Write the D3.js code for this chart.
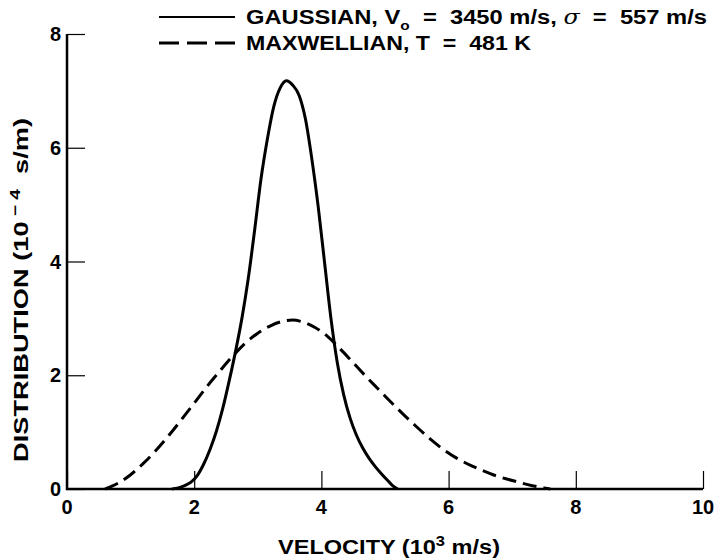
<!DOCTYPE html>
<html>
<head>
<meta charset="utf-8">
<script src="https://cdn.jsdelivr.net/npm/d3@7"></script>
<style>
  body { margin: 0; background: #fff; }
  svg { display: block; }
  text { font-family: 'Liberation Sans', Arial, sans-serif; font-weight: bold; fill: #000; white-space: pre; }
</style>
</head>
<body>
<div id="chart"></div>
<script>
let width = 714
let height = 558

let margin = { 'top' : 34, 'right' : 11, 'bottom' : 69, 'left' : 67 }

// velocity in 10^3 m/s, distribution in 10^-4 s/m
let gaussV = [1.65, 1.75, 1.85, 1.95, 2.05, 2.15, 2.25, 2.35, 2.45, 2.55, 2.65, 2.75, 2.85, 2.95, 3.05, 3.15, 3.25, 3.35, 3.45,
  3.55, 3.65, 3.75, 3.85, 3.95, 4.05, 4.15, 4.25, 4.35, 4.45, 4.55, 4.65, 4.75, 4.85, 4.95, 5.05, 5.12, 5.20]
let gaussD = [0, 0.02, 0.06, 0.12, 0.24, 0.44, 0.70, 1.02, 1.42, 1.90, 2.42, 3.00, 3.70, 4.55, 5.45, 6.15, 6.72, 7.05, 7.18,
  7.10, 6.92, 6.50, 5.80, 4.96, 3.98, 3.00, 2.22, 1.66, 1.25, 0.95, 0.72, 0.54, 0.39, 0.26, 0.14, 0.06, 0]

let maxwV = [0.60, 0.80, 1.00, 1.20, 1.40, 1.60, 1.80, 2.00, 2.20, 2.40, 2.60, 2.80, 3.00, 3.20, 3.40, 3.55, 3.70, 3.90,
  4.10, 4.30, 4.50, 4.70, 4.90, 5.10, 5.30, 5.50, 5.70, 5.90, 6.10, 6.30, 6.50, 6.70, 6.90, 7.10, 7.30, 7.50, 7.60]
let maxwD = [0, 0.10, 0.25, 0.45, 0.68, 0.94, 1.22, 1.51, 1.80, 2.07, 2.33, 2.56, 2.74, 2.87, 2.95, 2.97, 2.94, 2.84,
  2.68, 2.46, 2.22, 1.98, 1.75, 1.52, 1.30, 1.09, 0.89, 0.71, 0.56, 0.44, 0.34, 0.25, 0.18, 0.12, 0.06, 0.02, 0]

let xTicks = [0, 2, 4, 6, 8, 10]
let yTicks = [0, 2, 4, 6, 8]

let xScale = d3.scaleLinear()
  .domain([0, 10])
  .range([margin.left, width - margin.right])

let yScale = d3.scaleLinear()
  .domain([0, 8])
  .range([height - margin.bottom, margin.top])

let svg = d3.select('#chart').append('svg')
  .attr('width', width)
  .attr('height', height)

// axes, ticks pointing inward
let xAxis = svg.append('g')
  .attr('transform', 'translate(0,' + yScale(0) + ')')
  .call(d3.axisTop(xScale).tickValues(xTicks).tickSize(18).tickFormat(''))
xAxis.select('.domain').remove()
xAxis.selectAll('line').attr('stroke', '#000').attr('stroke-width', 1.2)

let yAxis = svg.append('g')
  .attr('transform', 'translate(' + xScale(0) + ',0)')
  .call(d3.axisRight(yScale).tickValues(yTicks).tickSize(18).tickFormat(''))
yAxis.select('.domain').remove()
yAxis.selectAll('line').attr('stroke', '#000').attr('stroke-width', 1.2)

svg.append('path')
  .attr('d', 'M' + xScale(0) + ',' + yScale(8) + 'V' + yScale(0) + 'H' + xScale(10))
  .attr('fill', 'none')
  .attr('stroke', '#000')
  .attr('stroke-width', 2.5)

svg.append('g').selectAll('text')
  .data(xTicks)
  .enter().append('text')
  .attr('x', (d) => xScale(d))
  .attr('y', yScale(0) + 25)
  .attr('text-anchor', 'middle')
  .attr('font-size', 20)
  .text((d) => d)

svg.append('g').selectAll('text')
  .data(yTicks)
  .enter().append('text')
  .attr('x', xScale(0) - 6)
  .attr('y', (d) => yScale(d) + 7)
  .attr('text-anchor', 'end')
  .attr('font-size', 20)
  .text((d) => d)

// axis titles
let xt = svg.append('text')
  .attr('x', 278)
  .attr('y', 554)
  .attr('font-size', 20)
  .attr('textLength', 222)
  .attr('lengthAdjust', 'spacingAndGlyphs')
xt.append('tspan').text('VELOCITY (10')
xt.append('tspan').attr('dy', -8).attr('font-size', 14).text('3')
xt.append('tspan').attr('dy', 8).text(' m/s)')

let yt = svg.append('text')
  .attr('transform', 'translate(28,462) rotate(-90)')
  .attr('font-size', 20)
  .attr('textLength', 344)
  .attr('lengthAdjust', 'spacingAndGlyphs')
yt.append('tspan').text('DISTRIBUTION (10')
yt.append('tspan').attr('dy', -8).attr('font-size', 14).text(' \u2212 4')
yt.append('tspan').attr('dy', 8).text('  s/m)')

// curves
let line = d3.line()
  .x((d) => xScale(d[0]))
  .y((d) => yScale(d[1]))
  .curve(d3.curveMonotoneX)

svg.append('path')
  .datum(gaussV.map((v, i) => [v, gaussD[i]]))
  .attr('d', line)
  .attr('fill', 'none')
  .attr('stroke', '#000')
  .attr('stroke-width', 3)

svg.append('path')
  .datum(maxwV.map((v, i) => [v, maxwD[i]]))
  .attr('d', line)
  .attr('fill', 'none')
  .attr('stroke', '#000')
  .attr('stroke-width', 3)
  .attr('stroke-dasharray', '14,7')

// legend
svg.append('line')
  .attr('x1', 159).attr('x2', 235).attr('y1', 17).attr('y2', 17)
  .attr('stroke', '#000').attr('stroke-width', 2)
svg.append('line')
  .attr('x1', 159).attr('x2', 235).attr('y1', 43).attr('y2', 43)
  .attr('stroke', '#000').attr('stroke-width', 3)
  .attr('stroke-dasharray', '20,8')

let g1 = svg.append('text')
  .attr('x', 246).attr('y', 24)
  .attr('font-size', 20)
  .attr('textLength', 461)
  .attr('lengthAdjust', 'spacingAndGlyphs')
g1.append('tspan').text('GAUSSIAN, V')
g1.append('tspan').attr('dy', 6).attr('font-size', 13).text('o')
g1.append('tspan').attr('dy', -6).text('  =  3450 m/s, ')
g1.append('tspan').attr('font-family', 'DejaVu Serif').attr('font-style', 'italic').attr('font-weight', 'normal').text('\u03c3')
g1.append('tspan').text('  =  557 m/s')

svg.append('text')
  .attr('x', 246).attr('y', 50)
  .attr('font-size', 20)
  .attr('textLength', 285)
  .attr('lengthAdjust', 'spacingAndGlyphs')
  .text('MAXWELLIAN, T  =  481 K')
</script>
</body>
</html>
